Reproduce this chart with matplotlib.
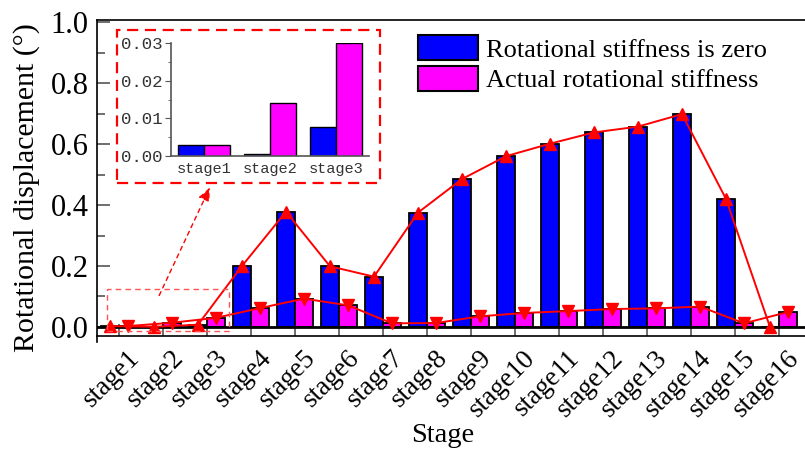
import matplotlib
matplotlib.use("Agg")
import matplotlib.pyplot as plt
import numpy as np
from matplotlib.patches import Rectangle, Patch, FancyArrowPatch
import matplotlib.transforms as mtransforms

plt.rcParams["font.family"] = ["Liberation Serif", "DejaVu Serif"]
plt.rcParams["mathtext.fontset"] = "stix"

stages = ["stage%d" % i for i in range(1, 17)]
zero_stiff = [0.003, 0.0006, 0.0075, 0.200, 0.378, 0.199, 0.165, 0.375,
              0.485, 0.560, 0.601, 0.638, 0.657, 0.698, 0.420, 0.0]
actual_stiff = [0.003, 0.014, 0.030, 0.062, 0.093, 0.071, 0.012, 0.013,
                0.035, 0.046, 0.052, 0.059, 0.061, 0.067, 0.012, 0.049]
inset_stages = ["stage1", "stage2", "stage3"]
inset_zero = [0.0028, 0.0006, 0.0076]
inset_actual = [0.0028, 0.0141, 0.0301]

mono = ["Liberation Mono", "DejaVu Sans Mono"]
BLUE = "#0000FF"
MAG = "#FF00FF"
RED = "#FF0000"

W, H = 805, 450
fig = plt.figure(figsize=(W / 100, H / 100), dpi=100)

def px(x0, y0, x1, y1):
    return [x0 / W, 1 - y1 / H, (x1 - x0) / W, (y1 - y0) / H]

ax = fig.add_axes(px(97, 20, 805, 342))
x = np.arange(1, 17)
bw = 0.41
ax.bar(x - bw / 2, zero_stiff, bw, color=BLUE, edgecolor="black", linewidth=1.3, zorder=2)
ax.bar(x + bw / 2, actual_stiff, bw, color=MAG, edgecolor="black", linewidth=1.3, zorder=2)
ax.plot(x - bw / 2, zero_stiff, color=RED, lw=1.4, marker="^", ms=9, zorder=4)
ax.plot(x + bw / 2, actual_stiff, color=RED, lw=1.4, marker="v", ms=9, zorder=4)
ax.axhline(0, color="black", lw=2, zorder=3)

ax.set_xlim(0.5, 0.5 + (805 - 97) / 44)
ax.set_ylim(-0.0492, 1.0066)
ax.spines["right"].set_visible(False)
ax.spines["bottom"].set_position(("data", -0.0295))
for s in ["left", "top", "bottom"]:
    ax.spines[s].set_linewidth(1.2)
ax.set_xticks(x)
ax.set_xticklabels(stages, rotation=45, ha="right", va="center",
                   rotation_mode="anchor", fontsize=19.5)
ax.tick_params(axis="x", direction="in", length=9, width=1.2, color="#555555", pad=6)
ax.set_yticks([0, 0.2, 0.4, 0.6, 0.8, 1.0])
ax.set_yticklabels(["0.0", "0.2", "0.4", "0.6", "0.8", "1.0"], fontsize=22)
ax.set_yticks([0.1, 0.3, 0.5, 0.7, 0.9], minor=True)
ax.tick_params(axis="y", which="major", direction="in", length=9, width=1.2, color="#555555", pad=6)
ax.tick_params(axis="y", which="minor", direction="in", length=6, width=1.2, color="#555555")
ax.tick_params(axis="x", which="minor", length=0)
offset = mtransforms.ScaledTranslation(17 / 100, -10 / 100, fig.dpi_scale_trans)
for lab in ax.get_xticklabels():
    lab.set_transform(lab.get_transform() + offset)

fig.text(27 / W, 1 - 188 / H, "Rotational displacement (°)", rotation=90,
         ha="center", va="center", fontsize=21.5)
fig.text(443 / W, 1 - 436 / H, "Stage", ha="center", va="center", fontsize=20.5)

handles = [Patch(facecolor=BLUE, edgecolor="black", linewidth=1.5),
           Patch(facecolor=MAG, edgecolor="black", linewidth=1.5)]
fs_leg = 19
em = fs_leg * 100 / 72
leg = ax.legend(handles, ["Rotational stiffness is zero", "Actual rotational stiffness"],
                loc="upper left",
                bbox_to_anchor=((418 - 97) / 708, 1 - (37 - 20 - 2) / 322),
                frameon=False, prop={"size": fs_leg},
                handlelength=60 / em, handleheight=29 / em, handletextpad=8 / em,
                labelspacing=0.15, borderaxespad=0, borderpad=0)

# dashed zoom box in main axes
fig.patches.append(Rectangle((107 / W, 1 - 331 / H), 122 / W, 42 / H,
                             transform=fig.transFigure, fill=False,
                             edgecolor="#FF5555", lw=1.0, ls=(0, (4, 3)), zorder=5))
# inset frame box
fig.patches.append(Rectangle((117 / W, 1 - 183 / H), 263 / W, 153 / H,
                             transform=fig.transFigure, fill=False,
                             edgecolor=RED, lw=1.6, ls=(0, (5, 3)), zorder=5))
# dashed arrow
fig.add_artist(FancyArrowPatch(
    (158 / W, 1 - 298 / H), (211 / W, 1 - 185 / H), transform=fig.transFigure,
    arrowstyle="-|>,head_length=8,head_width=3.5", color=RED, lw=1.0,
    linestyle=(0, (3, 3)), mutation_scale=1))

# inset axes
ins = fig.add_axes(px(171, 43, 369, 156))
xi = np.arange(1, 4)
iw = 0.4
ins.bar(xi - iw / 2, inset_zero, iw, color=BLUE, edgecolor="black", linewidth=1.0)
ins.bar(xi + iw / 2, inset_actual, iw, color=MAG, edgecolor="black", linewidth=1.0)
ins.set_xlim(0.5, 3.5)
ins.set_ylim(0, 0.03)
for s in ["top", "right"]:
    ins.spines[s].set_visible(False)
for s in ["left", "bottom"]:
    ins.spines[s].set_color("#555555")
    ins.spines[s].set_linewidth(1.2)
ins.set_xticks(xi)
ins.set_xticklabels(inset_stages, family=mono, fontsize=11, color="#333333")
ins.set_yticks([0, 0.01, 0.02, 0.03])
ins.set_yticklabels(["0.00", "0.01", "0.02", "0.03"], family=mono, fontsize=12.5, color="#333333")
ins.set_yticks([0.005, 0.015, 0.025], minor=True)
ins.tick_params(axis="x", length=0, pad=4)
ins.tick_params(axis="y", which="major", direction="out", length=4, color="#555555", pad=2)
ins.tick_params(axis="y", which="minor", direction="out", length=2, color="#555555")
ins.patch.set_alpha(0)

fig.savefig("out.png", dpi=100)
